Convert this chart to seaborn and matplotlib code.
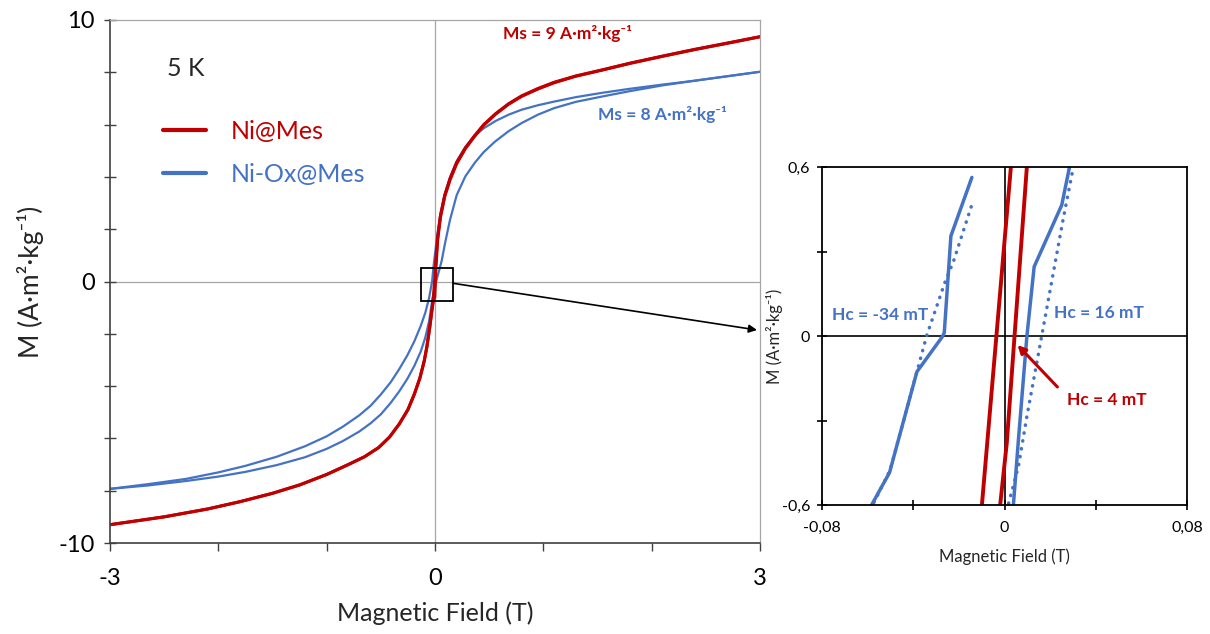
import matplotlib
matplotlib.use("Agg")
import matplotlib.pyplot as plt
import seaborn as sns
from matplotlib.lines import Line2D
from matplotlib.patches import Rectangle

# Ni@Mes loop, main panel (field in T, M in A m2/kg)
ni_h_desc = [3.0, 2.7, 2.4, 2.1, 1.8, 1.55, 1.3, 1.1, 0.95, 0.8,
             0.68, 0.56, 0.45, 0.36, 0.28, 0.2, 0.14, 0.09, 0.05, 0.025,
             0.009, -0.004, -0.015, -0.03, -0.05, -0.075, -0.1, -0.14, -0.19, -0.25,
             -0.33, -0.42, -0.52, -0.65, -0.8, -1.0, -1.25, -1.5, -1.8, -2.1,
             -2.5, -3.0]
ni_m_desc = [9.36, 9.12, 8.88, 8.62, 8.35, 8.1, 7.86, 7.62, 7.38, 7.1,
             6.8, 6.42, 6.0, 5.55, 5.1, 4.55, 3.95, 3.3, 2.5, 1.7,
             0.9, 0.0, -0.6, -1.15, -1.8, -2.5, -3.05, -3.7, -4.3, -4.9,
             -5.45, -5.95, -6.35, -6.7, -7.0, -7.38, -7.78, -8.1, -8.42, -8.7,
             -9.0, -9.3]
ni_h_asc = [-3.0, -2.5, -2.1, -1.8, -1.5, -1.25, -1.0, -0.8, -0.65, -0.52,
            -0.42, -0.33, -0.25, -0.19, -0.14, -0.1, -0.075, -0.05, -0.03, -0.015,
            -0.002, 0.0044, 0.0098, 0.025, 0.05, 0.09, 0.14, 0.2, 0.28, 0.36,
            0.45, 0.56, 0.68, 0.8, 0.95, 1.1, 1.3, 1.55, 1.8, 2.1,
            2.4, 2.7, 3.0]
ni_m_asc = [-9.3, -9.0, -8.7, -8.42, -8.1, -7.78, -7.38, -7.0, -6.7, -6.35,
            -5.95, -5.45, -4.9, -4.3, -3.7, -3.05, -2.5, -1.8, -1.15, -0.75,
            -0.6, 0.0, 0.6, 1.6, 2.45, 3.25, 3.9, 4.5, 5.08, 5.52,
            5.98, 6.4, 6.78, 7.08, 7.36, 7.6, 7.85, 8.09, 8.34, 8.61,
            8.87, 9.11, 9.36]

# Ni-Ox@Mes loop, main panel
ox_h_desc = [3.0, 2.7, 2.4, 2.1, 1.8, 1.55, 1.3, 1.1, 0.95, 0.8,
             0.68, 0.56, 0.45, 0.36, 0.28, 0.2, 0.14, 0.09, 0.05, 0.02,
             0.0, -0.014, -0.027, -0.055, -0.09, -0.132, -0.19, -0.255, -0.33, -0.409,
             -0.5, -0.594, -0.7, -0.85, -1.0, -1.2, -1.46, -1.75, -2.0, -2.3,
             -2.65, -3.0]
ox_m_desc = [8.02, 7.85, 7.68, 7.53, 7.37, 7.22, 7.05, 6.88, 6.74, 6.57,
             6.38, 6.14, 5.86, 5.55, 5.15, 4.6, 4.0, 3.35, 2.6, 1.75,
             1.05, 0.56, 0.0, -0.64, -1.2, -1.7, -2.28, -2.82, -3.35, -3.85,
             -4.32, -4.75, -5.12, -5.55, -5.92, -6.3, -6.7, -7.05, -7.3, -7.55,
             -7.75, -7.93]
ox_h_asc = [-3.0, -2.65, -2.3, -2.0, -1.75, -1.46, -1.2, -1.0, -0.85, -0.7,
            -0.594, -0.5, -0.409, -0.33, -0.255, -0.19, -0.132, -0.09, -0.055, -0.025,
            0.0098, 0.04, 0.062, 0.092, 0.138, 0.2, 0.28, 0.369, 0.45, 0.554,
            0.68, 0.8, 0.95, 1.1, 1.3, 1.55, 1.8, 2.1, 2.4, 2.7,
            3.0]
ox_m_asc = [-7.93, -7.8, -7.63, -7.46, -7.28, -7.02, -6.72, -6.4, -6.1, -5.74,
            -5.42, -5.08, -4.64, -4.2, -3.72, -3.22, -2.68, -2.15, -1.53, -0.7,
            0.0, 0.45, 0.8, 1.45, 2.35, 3.3, 4.02, 4.55, 4.95, 5.35,
            5.75, 6.06, 6.38, 6.63, 6.87, 7.08, 7.28, 7.5, 7.68, 7.85,
            8.02]

# zoomed panel, low field
zni_h_desc = [0.0028, -0.0099]
zni_m_desc = [0.6, -0.6]
zni_h_asc = [-0.0019, 0.001, 0.0044, 0.0098]
zni_m_asc = [-0.6, -0.38, 0.0, 0.6]
zox_h_desc = [-0.0143, -0.0235, -0.0264, -0.0272, -0.0384, -0.0504, -0.0582]
zox_m_desc = [0.563, 0.355, 0.012, -0.002, -0.127, -0.485, -0.599]
zox_h_asc = [0.0039, 0.0061, 0.0098, 0.0130, 0.0251, 0.0285]
zox_m_asc = [-0.6, -0.369, -0.002, 0.246, 0.465, 0.6]
zoxd_h_desc = [-0.0146, -0.0224, -0.0260, -0.0340, -0.0384, -0.0501, -0.0574]
zoxd_m_desc = [0.459, 0.264, 0.193, 0.004, -0.127, -0.475, -0.594]
zoxd_h_asc = [0.0018, 0.0061, 0.0098, 0.0164, 0.0259, 0.0302]
zoxd_m_asc = [-0.594, -0.463, -0.286, 0.004, 0.423, 0.6]

RED = "#C00000"
BLUE = "#4472C4"
GREY = "#A6A6A6"
DARK = "#404040"

sns.set_theme(style="white")
plt.rcParams["font.family"] = ["Lato", "DejaVu Sans"]

fig = plt.figure(figsize=(12.1, 6.34), dpi=100)
ax = fig.add_axes([110 / 1210, 1 - 543 / 634, 650 / 1210, 523 / 634])
axz = fig.add_axes([822 / 1210, 1 - 505 / 634, 365 / 1210, 338 / 634])

# ---- main panel ----
ax.axhline(0, color=GREY, lw=0.9, zorder=0)
ax.axvline(0, color=GREY, lw=0.9, zorder=0)

for h, m in [(ox_h_desc, ox_m_desc), (ox_h_asc, ox_m_asc)]:
    sns.lineplot(x=h, y=m, sort=False, estimator=None, color=BLUE, lw=1.6, ax=ax)
for h, m in [(ni_h_desc, ni_m_desc), (ni_h_asc, ni_m_asc)]:
    sns.lineplot(x=h, y=m, sort=False, estimator=None, color=RED, lw=2.2, ax=ax)

ax.set_xlim(-3, 3)
ax.set_ylim(-10, 10)
ax.set_xticks(range(-3, 4))
ax.set_xticklabels(["-3", "", "", "0", "", "", "3"])
ax.set_yticks(range(-10, 11, 2))
ax.set_yticklabels(["-10", "", "", "", "", "0", "", "", "", "", "10"])
ax.tick_params(axis="x", bottom=True, direction="out", length=6, width=1,
               color=DARK, labelsize=17, pad=12, labelcolor="black")
ax.tick_params(axis="y", left=True, direction="inout", length=8, width=1,
               color=DARK, labelsize=17, pad=7, labelcolor="black")
for s in ["left", "bottom"]:
    ax.spines[s].set_color(DARK)
    ax.spines[s].set_linewidth(1.2)
for s in ["top", "right"]:
    ax.spines[s].set_color(GREY)
    ax.spines[s].set_linewidth(0.9)

ax.set_xlabel("Magnetic Field (T)", fontsize=18, labelpad=9)
ax.set_ylabel("M (A·m²·kg⁻¹)", fontsize=19, labelpad=10)

ax.text(0.088, 0.908, "5 K", transform=ax.transAxes, fontsize=18, va="center")
handles = [Line2D([], [], color=RED, lw=3), Line2D([], [], color=BLUE, lw=3)]
ax.legend(handles, ["Ni@Mes", "Ni-Ox@Mes"], loc="center left",
          bbox_to_anchor=(0.082, 0.746), frameon=False, fontsize=18,
          handlelength=1.7, handletextpad=1.0, labelspacing=0.8,
          borderpad=0, borderaxespad=0, labelcolor="linecolor")

ax.text(0.628, 9.5, "Ms = 9 A·m²·kg⁻¹", color=RED, fontsize=12.5,
        fontweight="bold", va="center")
ax.text(1.505, 6.37, "Ms = 8 A·m²·kg⁻¹", color=BLUE, fontsize=12.5,
        fontweight="bold", va="center")

ax.add_patch(Rectangle((-0.132, -0.734), 0.301, 1.239, fill=False,
                       ec="black", lw=1.3, zorder=5))
ax.annotate("", xy=(757 / 1210, 304 / 634), xycoords="figure fraction",
            xytext=(0.169, -0.07), textcoords="data", annotation_clip=False,
            arrowprops=dict(arrowstyle="-|>", color="black", lw=1.2,
                            mutation_scale=12, shrinkA=0, shrinkB=0))

# ---- zoomed panel ----
axz.axhline(0, color="black", lw=1.2, zorder=0)
axz.axvline(0, color="black", lw=1.2, zorder=0)
for h, m in [(zni_h_desc, zni_m_desc), (zni_h_asc, zni_m_asc)]:
    sns.lineplot(x=h, y=m, sort=False, estimator=None, color=RED, lw=2.8, ax=axz)
for h, m in [(zox_h_desc, zox_m_desc), (zox_h_asc, zox_m_asc)]:
    sns.lineplot(x=h, y=m, sort=False, estimator=None, color=BLUE, lw=2.5, ax=axz)
for h, m in [(zoxd_h_desc, zoxd_m_desc), (zoxd_h_asc, zoxd_m_asc)]:
    sns.lineplot(x=h, y=m, sort=False, estimator=None, color=BLUE, lw=2.5,
                 linestyle=(0, (0.1, 2.2)), dash_capstyle="round", ax=axz)

axz.set_xlim(-0.08, 0.08)
axz.set_ylim(-0.6, 0.6)
axz.set_xticks([-0.08, -0.04, 0, 0.04, 0.08])
axz.set_xticklabels(["-0,08", "", "0", "", "0,08"])
axz.set_yticks([-0.6, -0.3, 0, 0.3, 0.6])
axz.set_yticklabels(["-0,6", "", "0", "", "0,6"])
axz.tick_params(bottom=True, left=True, direction="inout", length=7, width=1.2,
                color="black", labelsize=11.5, labelcolor="black")
axz.tick_params(axis="x", pad=8)
axz.tick_params(axis="y", pad=5)
for s in axz.spines.values():
    s.set_color("black")
    s.set_linewidth(1.3)
axz.set_xlabel("Magnetic Field (T)", fontsize=12, labelpad=10)
axz.set_ylabel("M (A·m²·kg⁻¹)", fontsize=12)
axz.yaxis.set_label_coords(-0.107, 0.5)

axz.text(-0.0754, 0.0745, "Hc = -34 mT", color=BLUE, fontsize=12.5,
         fontweight="bold", va="center")
axz.text(0.0215, 0.082, "Hc = 16 mT", color=BLUE, fontsize=12.5,
         fontweight="bold", va="center")
axz.text(0.0276, -0.227, "Hc = 4 mT", color=RED, fontsize=12.5,
         fontweight="bold", va="center")
axz.annotate("", xy=(0.0057, -0.032), xytext=(0.0232, -0.181),
             arrowprops=dict(arrowstyle="-|>", color=RED, lw=2.2,
                             mutation_scale=12, shrinkA=0, shrinkB=0))

fig.savefig("out.png", dpi=100)
